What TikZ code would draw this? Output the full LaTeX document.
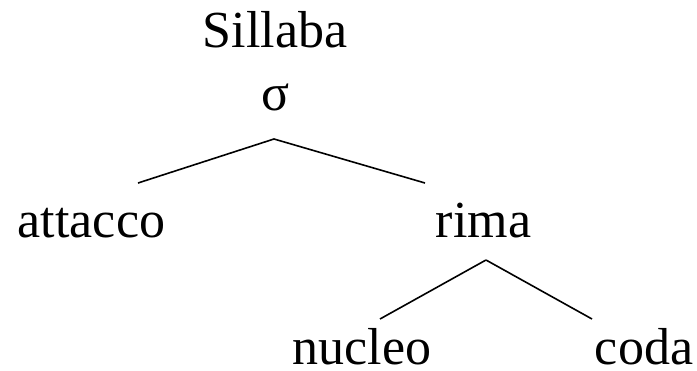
\documentclass[tikz,border=0pt]{standalone}
\usepackage{fontspec}
\setmainfont{Liberation Serif}
\tikzstyle{every node}=[inner sep=0pt, anchor=base, font=\fontsize{52}{60}\selectfont]
\tikzset{branch/.style={line width=1.6pt}}

\begin{document}
\begin{tikzpicture}[x=1pt, y=-1pt]
		\useasboundingbox (0,0) rectangle (697,370);
		\node (sillaba) at (275,47) {Sillaba};
		\node (sigma) at (276,110) {σ};
		\node (attacco) at (91.5,237) {attacco};
		\node (rima) at (483.5,237) {rima};
		\node (nucleo) at (362,364) {nucleo};
		\node (coda) at (644,364) {coda};
		\path (274,139) coordinate(sigmafoot);
		\path (138,183) coordinate(attaccohead);
		\path (425,183) coordinate(rimahead);
		\path (486,260) coordinate(rimafoot);
		\path (380,319) coordinate(nucleohead);
		\path (592,319) coordinate(codahead);
		\draw[branch] (sigmafoot) to (attaccohead);
		\draw[branch] (sigmafoot) to (rimahead);
		\draw[branch] (rimafoot) to (nucleohead);
		\draw[branch] (rimafoot) to (codahead);
		\end{tikzpicture}
\end{document}
